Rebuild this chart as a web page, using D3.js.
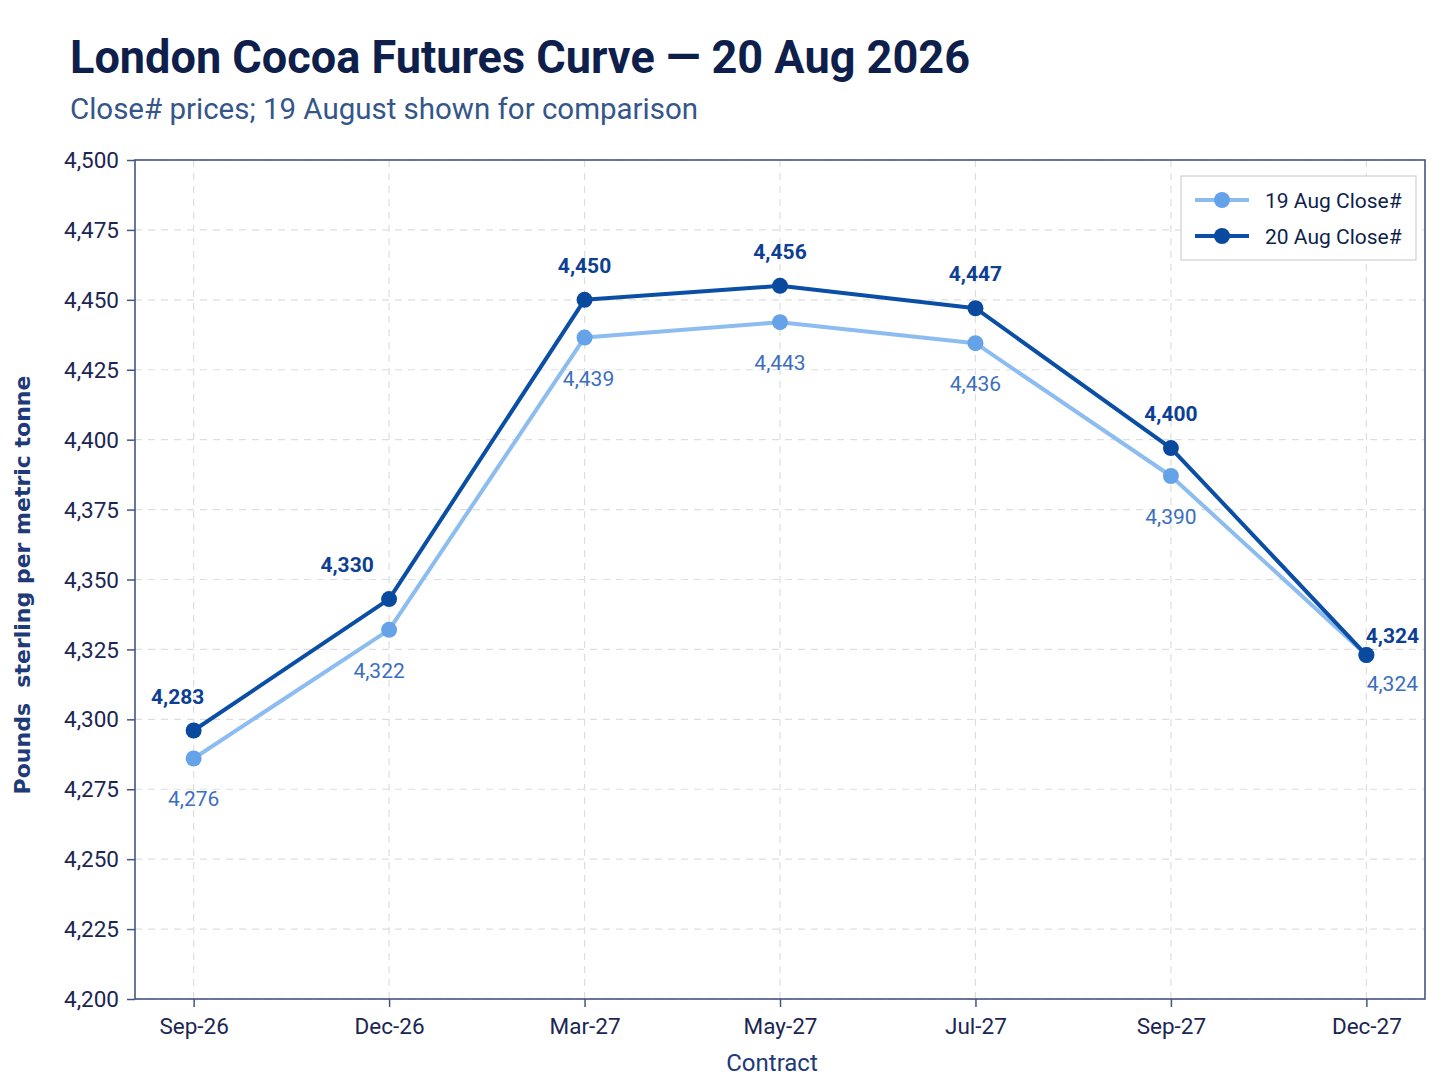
<!DOCTYPE html>
<html>
<head>
<meta charset="utf-8">
<script src="https://cdn.jsdelivr.net/npm/d3@7/dist/d3.min.js"></script>
<style>
  html, body { margin: 0; padding: 0; background: #ffffff; }
  svg { display: block; }
</style>
</head>
<body>
<svg id="chart" width="1448" height="1086"></svg>
<script>
// ---- Data ----
const contracts = ["Sep-26", "Dec-26", "Mar-27", "May-27", "Jul-27", "Sep-27", "Dec-27"];
const aug19Values = [4286, 4332, 4436.5, 4442, 4434.5, 4387, 4323];
const aug20Values = [4296, 4343, 4450, 4455, 4447, 4397, 4323];
const aug19Labels = ["4,276", "4,322", "4,439", "4,443", "4,436", "4,390", "4,324"];
const aug20Labels = ["4,283", "4,330", "4,450", "4,456", "4,447", "4,400", "4,324"];
const yTicks = [4200, 4225, 4250, 4275, 4300, 4325, 4350, 4375, 4400, 4425, 4450, 4475, 4500];
const seriesNames = ["19 Aug Close#", "20 Aug Close#"];

const titleText = "London Cocoa Futures Curve \u2014 20 Aug 2026";
const subtitleText = "Close# prices; 19 August shown for comparison";
const yTitle = "Pounds\u00a0 sterling per metric tonne";
const xTitle = "Contract";

// ---- Layout ----
const W = 1448, H = 1086;
const m = { left: 135, right: 23, top: 160, bottom: 87 };
const iw = W - m.left - m.right, ih = H - m.top - m.bottom;

const C = {
  dark: "#0a4ea6", darkPt: "#0a4a9e", darkLbl: "#0d3f92",
  light: "#8dbcf0", lightPt: "#66a2e8", lightLbl: "#3b6ebf",
  frame: "#44557f", grid: "#dedede", tick: "#1b2653",
  title: "#0f1f4b", sub: "#35568a", axisTitle: "#1e3a78"
};
const FONT = "Roboto, 'Noto Sans', Arial, sans-serif";
// label nudges (px) to keep labels clear of steep segments
const darkNudgeX = [-16, -42, 0, 0, 0, 0, 26];
const lightNudgeX = [0, -10, 4, 0, 0, 0, 26];

const svg = d3.select("#chart");
svg.append("rect").attr("width", W).attr("height", H).attr("fill", "#fff");

const x = d3.scalePoint().domain(contracts).range([m.left, m.left + iw]).padding(0.3);
const y = d3.scaleLinear().domain([4200, 4500]).range([m.top + ih, m.top]);

// Title
svg.append("text").attr("x", 70).attr("y", 73)
  .attr("font-family", FONT).attr("font-weight", 700).attr("font-size", 47)
  .attr("textLength", 900).attr("lengthAdjust", "spacingAndGlyphs")
  .attr("fill", C.title).text(titleText);
svg.append("text").attr("x", 70).attr("y", 119)
  .attr("font-family", FONT).attr("font-size", 30)
  .attr("textLength", 628).attr("lengthAdjust", "spacingAndGlyphs")
  .attr("fill", C.sub).text(subtitleText);

// Grid
const g = svg.append("g");
g.selectAll(".hg").data(yTicks).join("line")
  .attr("x1", m.left).attr("x2", m.left + iw)
  .attr("y1", d => y(d)).attr("y2", d => y(d))
  .attr("stroke", C.grid).attr("stroke-width", 1.2).attr("stroke-dasharray", "7,6");
g.selectAll(".vg").data(contracts).join("line")
  .attr("x1", d => x(d)).attr("x2", d => x(d))
  .attr("y1", m.top).attr("y2", m.top + ih)
  .attr("stroke", C.grid).attr("stroke-width", 1.2).attr("stroke-dasharray", "7,6");

// Axes
const yAxis = svg.append("g").attr("transform", `translate(${m.left},0)`)
  .call(d3.axisLeft(y).tickValues(yTicks).tickFormat(d3.format(",")).tickSize(8).tickPadding(8));
const xAxis = svg.append("g").attr("transform", `translate(0,${m.top + ih})`)
  .call(d3.axisBottom(x).tickSize(8).tickPadding(11));
[yAxis, xAxis].forEach(a => {
  a.select(".domain").remove();
  a.selectAll("line").attr("stroke", C.frame).attr("stroke-width", 1.5);
  a.selectAll("text").attr("font-family", FONT).attr("font-size", 22.5).attr("fill", C.tick);
});
yAxis.selectAll("text").attr("dy", "0.34em");

// Frame
svg.append("rect").attr("x", m.left).attr("y", m.top).attr("width", iw).attr("height", ih)
  .attr("fill", "none").attr("stroke", C.frame).attr("stroke-width", 1.6);

// Axis titles
svg.append("text").attr("transform", `translate(30,${585}) rotate(-90)`)
  .attr("text-anchor", "middle").attr("font-family", "'DejaVu Sans', Verdana, sans-serif")
  .attr("font-size", 22).attr("font-weight", 700).attr("fill", C.axisTitle).text(yTitle);
svg.append("text").attr("x", 772).attr("y", 1071)
  .attr("text-anchor", "middle").attr("font-family", FONT).attr("font-size", 24)
  .attr("fill", C.axisTitle).text(xTitle);

// Series
const line = d3.line().x((d, i) => x(contracts[i])).y(d => y(d));
const series = [
  { name: seriesNames[0], vals: aug19Values, labels: aug19Labels, stroke: C.light, pt: C.lightPt, lbl: C.lightLbl, below: true, nx: lightNudgeX },
  { name: seriesNames[1], vals: aug20Values, labels: aug20Labels, stroke: C.dark, pt: C.darkPt, lbl: C.darkLbl, below: false, nx: darkNudgeX }
];
const last = contracts.length - 1;
series.forEach(s => {
  svg.append("path").datum(s.vals).attr("d", line)
    .attr("fill", "none").attr("stroke", s.stroke).attr("stroke-width", 4)
    .attr("stroke-linejoin", "round").attr("stroke-linecap", "round");
  svg.selectAll(null).data(s.vals).join("circle")
    .attr("cx", (d, i) => x(contracts[i])).attr("cy", d => y(d)).attr("r", 8)
    .attr("fill", s.pt);
});
series.forEach(s => {
  svg.selectAll(null).data(s.vals).join("text")
    .attr("x", (d, i) => x(contracts[i]) + s.nx[i])
    .attr("y", (d, i) => y(d) + (s.below ? (i === last ? 36 : 48) : (i === last ? -12 : -27)))
    .attr("text-anchor", "middle").attr("font-family", FONT).attr("font-size", 21)
    .attr("font-weight", s.below ? 400 : 700).attr("fill", s.lbl)
    .text((d, i) => s.labels[i]);
});

// Legend
const lg = svg.append("g");
lg.append("rect").attr("x", 1181).attr("y", 176).attr("width", 235).attr("height", 84)
  .attr("fill", "#fff").attr("stroke", "#cfcfcf").attr("stroke-width", 1.2);
series.forEach((s, i) => {
  const ly = 200 + i * 36;
  lg.append("line").attr("x1", 1195).attr("x2", 1249).attr("y1", ly).attr("y2", ly)
    .attr("stroke", s.stroke).attr("stroke-width", 4);
  lg.append("circle").attr("cx", 1222).attr("cy", ly).attr("r", 8).attr("fill", s.pt);
  lg.append("text").attr("x", 1265).attr("y", ly + 7.5)
    .attr("font-family", FONT).attr("font-size", 21).attr("fill", C.title).text(s.name);
});
</script>
</body>
</html>
